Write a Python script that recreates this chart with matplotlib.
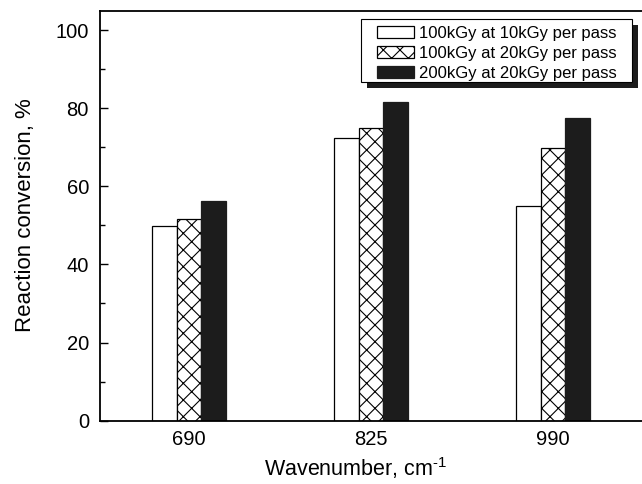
import numpy as np
import matplotlib.pyplot as plt
from matplotlib.patches import Rectangle
from matplotlib.ticker import MultipleLocator

plt.rcParams['font.family'] = ['Liberation Sans', 'DejaVu Sans']
plt.rcParams['mathtext.fontset'] = 'custom'
plt.rcParams['mathtext.rm'] = 'Liberation Sans'
plt.rcParams['mathtext.default'] = 'regular'
plt.rcParams['hatch.linewidth'] = 0.8

wavenumbers = ['690', '825', '990']
series_labels = ['100kGy at 10kGy per pass',
                 '100kGy at 20kGy per pass',
                 '200kGy at 20kGy per pass']
conv_100_10 = [49.8, 72.3, 55.0]
conv_100_20 = [51.6, 74.9, 69.8]
conv_200_20 = [56.3, 81.6, 77.4]

fig = plt.figure(figsize=(6.42, 4.84), dpi=100)
ax = fig.add_axes([0.1558, 0.1308, 0.8442, 0.8475])

x = np.arange(len(wavenumbers))
w = 0.135
ax.bar(x - w, conv_100_10, w, facecolor='white', edgecolor='black',
       linewidth=0.9, label=series_labels[0])
ax.bar(x, conv_100_20, w, facecolor='white', edgecolor='black',
       hatch='xx', linewidth=0.9, label=series_labels[1])
ax.bar(x + w, conv_200_20, w, facecolor='#1c1c1c', edgecolor='#1c1c1c',
       linewidth=0.9, label=series_labels[2])

ax.set_xlim(-0.49, 2.488)
ax.set_ylim(0, 105)
ax.set_xticks(x)
ax.set_xticklabels(wavenumbers)
ax.yaxis.set_major_locator(MultipleLocator(20))
ax.yaxis.set_minor_locator(MultipleLocator(10))
ax.tick_params(axis='y', which='major', direction='in', length=6, width=1,
               labelsize=14.5, pad=8)
ax.tick_params(axis='y', which='minor', direction='in', length=3.5, width=1)
ax.tick_params(axis='x', length=0, labelsize=14.5, pad=7)
ax.spines['right'].set_visible(False)
for s in ['left', 'top', 'bottom']:
    ax.spines[s].set_linewidth(1.3)

ax.set_xlabel('Wavenumber, cm$^{\\text{-1}}$', fontsize=15.5)
ax.xaxis.set_label_coords(0.472, -0.085, transform=ax.transAxes)
ax.xaxis.label.set_va('top')
ax.set_ylabel('Reaction conversion, %', fontsize=16, labelpad=14)

# legend entries without their own frame; box and shadow drawn separately
leg = ax.legend(loc='upper left', bbox_to_anchor=(0.511, 0.962),
                borderaxespad=0, borderpad=0, frameon=False, fontsize=12,
                handlelength=2.2, handleheight=0.75, handletextpad=0.3,
                labelspacing=0.3)
leg.set_zorder(6)

box = (0.4815, 0.8257, 0.5, 0.1533)
ax.add_patch(Rectangle((box[0] + 0.012, box[1] - 0.0146), box[2], box[3],
                       transform=ax.transAxes, facecolor='#1c1c1c',
                       edgecolor='none', zorder=4.5, clip_on=False))
ax.add_patch(Rectangle(box[:2], box[2], box[3], transform=ax.transAxes,
                       facecolor='white', edgecolor='black', linewidth=0.8,
                       zorder=5, clip_on=False))

fig.savefig('out.png', dpi=100)
